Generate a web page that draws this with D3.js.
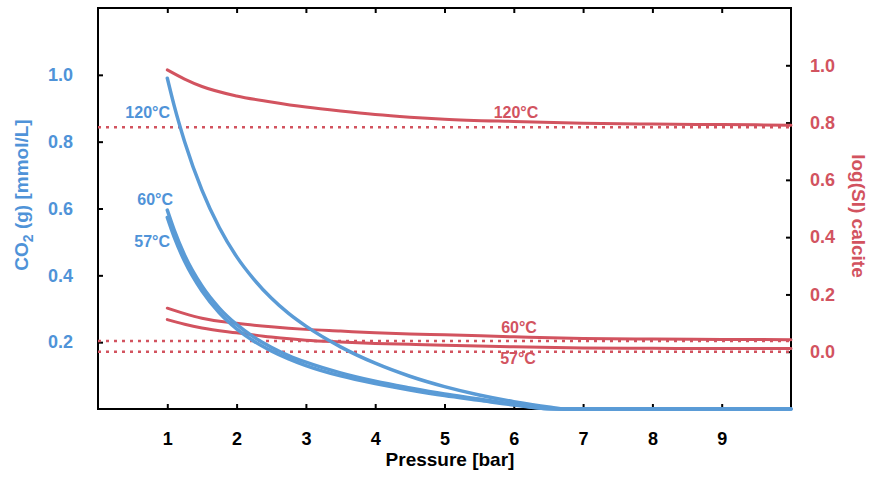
<!DOCTYPE html>
<html>
<head>
<meta charset="utf-8">
<script src="https://cdn.jsdelivr.net/npm/d3@7"></script>
<style>
  html, body { margin: 0; padding: 0; background: #fff; }
  svg { display: block; font-family: "Liberation Sans", Arial, Helvetica, sans-serif; }
</style>
</head>
<body>
<script>
// Pressure grid and dissolved CO2(g) concentrations [mmol/L] (left axis)
const co2Pressure = [1.0, 1.1, 1.25, 1.5, 1.75, 2.0, 2.25, 2.5, 2.75, 3.0, 3.5, 4.0, 4.5, 5.0, 5.5, 6.0, 6.5, 6.75, 10];
const co2_120 = [0.99, 0.907, 0.80, 0.655, 0.543, 0.456, 0.388, 0.332, 0.286, 0.248, 0.186, 0.137, 0.098, 0.067, 0.042, 0.022, 0.006, 0.0, 0.0];
const co2_60  = [0.595, 0.535, 0.46, 0.368, 0.302, 0.253, 0.215, 0.185, 0.16, 0.14, 0.108, 0.083, 0.063, 0.045, 0.03, 0.014, 0.001, 0.0, 0.0];
const co2_57  = [0.573, 0.514, 0.442, 0.353, 0.288, 0.240, 0.203, 0.174, 0.15, 0.13, 0.099, 0.076, 0.057, 0.040, 0.026, 0.012, 0.0005, 0.0, 0.0];

// Pressure grid and calcite saturation index log(SI) (right axis)
const siPressure = [1.0, 1.25, 1.5, 2.0, 2.5, 3.0, 3.5, 4.0, 4.5, 5.0, 6.0, 7.0, 8.0, 9.0, 10];
const si_120 = [0.984, 0.952, 0.926, 0.893, 0.872, 0.854, 0.840, 0.828, 0.819, 0.812, 0.804, 0.798, 0.795, 0.793, 0.791];
const si_60  = [0.152, 0.133, 0.117, 0.099, 0.087, 0.078, 0.072, 0.066, 0.062, 0.059, 0.052, 0.046, 0.044, 0.043, 0.042];
const si_57  = [0.112, 0.096, 0.083, 0.066, 0.051, 0.040, 0.034, 0.029, 0.026, 0.023, 0.017, 0.013, 0.012, 0.011, 0.011];

// Reference log(SI) levels (dotted)
const siRefLevels = [0.784, 0.037, 0.0];

// Tick values
const xTicks = [1, 2, 3, 4, 5, 6, 7, 8, 9];
const leftTicks = [0.2, 0.4, 0.6, 0.8, 1.0];
const rightTicks = [0.0, 0.2, 0.4, 0.6, 0.8, 1.0];

const W = 872, H = 479;
const BLUE = "#5a9bd6", BLUE_TEXT = "#4f93d8";
const RED = "#d2535f";

const svg = d3.select("body").append("svg").attr("width", W).attr("height", H);
svg.append("rect").attr("width", W).attr("height", H).attr("fill", "#fff");

const x = d3.scaleLinear().domain([0, 10]).range([98, 791]);
const yL = d3.scaleLinear().domain([0, 1.2]).range([409, 8]);
const yR = d3.scaleLinear().domain([-0.2, 1.2]).range([409, 8]);

// Axes (ticks point inward)
function styleAxis(g, color) {
  g.select(".domain").remove();
  g.selectAll(".tick line").attr("stroke", "#000").attr("stroke-width", 2);
  g.selectAll(".tick text").attr("fill", color).attr("font-size", 18).attr("font-weight", "bold");
}
svg.append("g").attr("transform", "translate(0,409)")
  .call(d3.axisBottom(x).tickValues(xTicks).tickSize(-5).tickPadding(23).tickFormat(d3.format("d")))
  .call(g => styleAxis(g, "#000"));
svg.append("g").attr("transform", "translate(0,8)")
  .call(d3.axisTop(x).tickValues(xTicks).tickSize(-5).tickFormat(""))
  .call(g => styleAxis(g, "#000"));
svg.append("g").attr("transform", "translate(98,0)")
  .call(d3.axisLeft(yL).tickValues(leftTicks).tickSize(-5).tickPadding(25).tickFormat(d3.format(".1f")))
  .call(g => styleAxis(g, BLUE_TEXT));
svg.append("g").attr("transform", "translate(791,0)")
  .call(d3.axisRight(yR).tickValues(rightTicks).tickSize(-5).tickPadding(19).tickFormat(d3.format(".1f")))
  .call(g => styleAxis(g, RED));

// Frame
svg.append("rect")
  .attr("x", x(0)).attr("y", yL(1.2))
  .attr("width", x(10) - x(0)).attr("height", yL(0) - yL(1.2))
  .attr("fill", "none").attr("stroke", "#000").attr("stroke-width", 2);

// Series labels
const labels = svg.append("g").attr("font-size", 16).attr("font-weight", "bold");
labels.append("text").attr("x", 170).attr("y", 118).attr("text-anchor", "end").attr("fill", BLUE_TEXT).text("120°C");
labels.append("text").attr("x", 173).attr("y", 205).attr("text-anchor", "end").attr("fill", BLUE_TEXT).text("60°C");
labels.append("text").attr("x", 170).attr("y", 247).attr("text-anchor", "end").attr("fill", BLUE_TEXT).text("57°C");
labels.append("text").attr("x", 516).attr("y", 118).attr("text-anchor", "middle").attr("fill", RED).text("120°C");
labels.append("text").attr("x", 519).attr("y", 333).attr("text-anchor", "middle").attr("fill", RED).text("60°C");
labels.append("text").attr("x", 518).attr("y", 364).attr("text-anchor", "middle").attr("fill", RED).text("57°C");

// Dotted reference levels
svg.append("g").selectAll("line").data(siRefLevels).join("line")
  .attr("x1", x(0)).attr("x2", x(10))
  .attr("y1", d => yR(d)).attr("y2", d => yR(d))
  .attr("stroke", RED).attr("stroke-width", 2.5).attr("stroke-dasharray", "3,5");

// log(SI) curves
const lineR = d3.line().x(d => x(d[0])).y(d => yR(d[1])).curve(d3.curveMonotoneX);
[si_120, si_60, si_57].forEach(vals => {
  svg.append("path")
    .attr("d", lineR(siPressure.map((p, i) => [p, vals[i]])))
    .attr("fill", "none").attr("stroke", RED).attr("stroke-width", 3).attr("stroke-linecap", "round");
});

// CO2(g) curves
const lineL = d3.line().x(d => x(d[0])).y(d => yL(d[1])).curve(d3.curveMonotoneX);
[co2_120, co2_60, co2_57].forEach(vals => {
  svg.append("path")
    .attr("d", lineL(co2Pressure.map((p, i) => [p, vals[i]])))
    .attr("fill", "none").attr("stroke", BLUE).attr("stroke-width", 3.5).attr("stroke-linecap", "round");
});

// Axis titles
const leftTitle = svg.append("text")
  .attr("transform", "translate(28,195) rotate(-90)")
  .attr("text-anchor", "middle").attr("font-size", 19).attr("font-weight", "bold").attr("fill", BLUE_TEXT);
leftTitle.append("tspan").text("CO");
leftTitle.append("tspan").attr("dy", 5).attr("font-size", 14).text("2");
leftTitle.append("tspan").attr("dy", -5).text(" (g) [mmol/L]");

svg.append("text")
  .attr("transform", "translate(852,216) rotate(90)")
  .attr("text-anchor", "middle").attr("font-size", 19).attr("font-weight", "bold").attr("fill", RED)
  .text("log(SI) calcite");

svg.append("text")
  .attr("x", 450).attr("y", 466)
  .attr("text-anchor", "middle").attr("font-size", 19).attr("font-weight", "bold").attr("fill", "#000")
  .text("Pressure [bar]");
</script>
</body>
</html>
